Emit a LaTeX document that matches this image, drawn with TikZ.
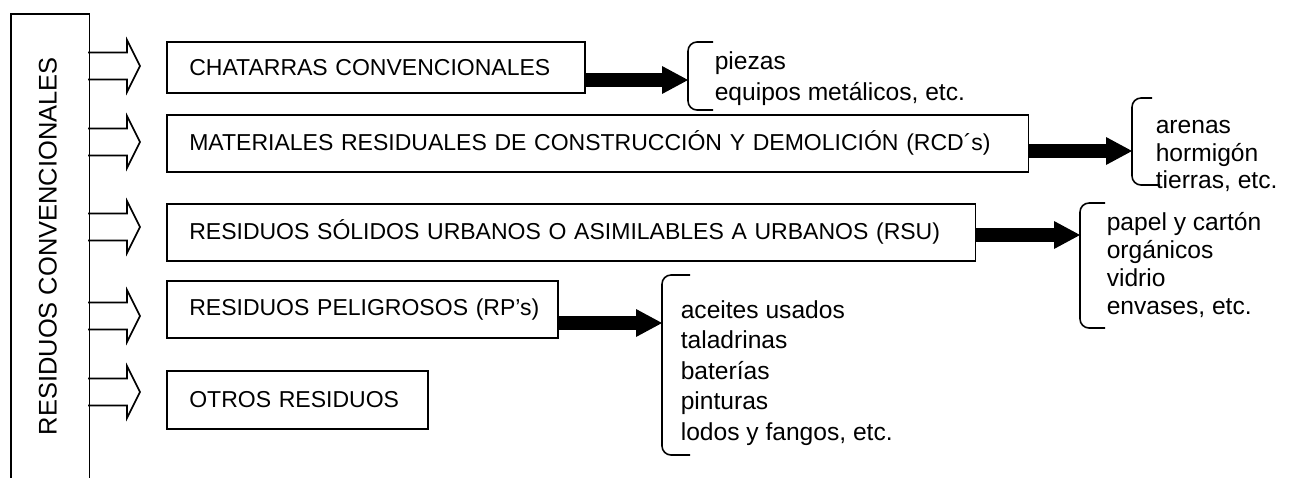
\documentclass[tikz,border=0pt]{standalone}
\usepackage{fontspec}
\setmainfont{Liberation Sans}
\usetikzlibrary{arrows.meta}

\tikzset{
  cat/.style={draw, anchor=north west, align=left, inner xsep=0pt, inner ysep=0pt,
    text width=#1, minimum height=1.14cm, execute at begin node=\hspace*{0.45cm},
    font=\fontsize{13.1}{16}\selectfont},
  items/.style={anchor=west, align=left, inner sep=0pt, font=\fontsize{14}{#1}\selectfont},
  fat/.style={line width=0.29cm, -{Triangle[length=0.52cm,width=0.56cm,line width=0pt]}},
  brace/.style={rounded corners=0.18cm},
}

\begin{document}
\begin{tikzpicture}[x=0.02cm, y=-0.02cm, line width=0.9pt]
\useasboundingbox (0,0) rectangle (1295,477);

% left frame, open at the bottom
\node[anchor=north west, minimum width=1.54cm, minimum height=9.26cm, inner sep=0pt,
  font=\fontsize{14.5}{17}\selectfont] (conv) at (11,14)
  {\rotatebox{90}{RESIDUOS CONVENCIONALES}\hspace*{0.1cm}};
\draw (conv.south west) -- (conv.north west) -- (conv.north east) -- (conv.south east);

% hollow arrows
\foreach \y in {66,142,227,316,392}
  \draw (88,\y-13.5) -- (127,\y-13.5) -- (127,\y-26) -- (140,\y)
    -- (127,\y+26) -- (127,\y+13.5) -- (88,\y+13.5);

% categories
\node[cat=8.36cm, minimum height=1.02cm] (chat) at (166,41) {CHATARRAS CONVENCIONALES};
\node[cat=17.24cm] (rcd) at (166,114) {MATERIALES RESIDUALES DE CONSTRUCCIÓN Y DEMOLICIÓN (RCD´s)};
\node[cat=16.18cm] (rsu) at (166,203) {RESIDUOS SÓLIDOS URBANOS O ASIMILABLES A URBANOS (RSU)};
\node[cat=7.82cm] (rp) at (166,280) {RESIDUOS PELIGROSOS (RP’s)};
\node[cat=5.22cm, minimum height=1.16cm] (otros) at (166,370) {OTROS RESIDUOS};

% examples
\node[items=17.6pt] (chatl) at (714,79) {piezas\\equipos metálicos, etc.};
\node[items=15.6pt] (rcdl) at (1155,156) {arenas\\hormigón\\tierras, etc.};
\node[items=15.8pt] (rsul) at (1106,265) {papel y cartón\\orgánicos\\vidrio\\envases, etc.};
\node[items=17.4pt] (rpl) at (680,373) {aceites usados\\taladrinas\\baterías\\pinturas\\lodos y fangos, etc.};

% brackets
\coordinate (tipA) at (688,80);
\draw[brace] (713,42) -- (688,42) -- (688,110) -- (713,110);
\coordinate (tipB) at (1132,151);
\draw[brace] (1152,98) -- (1132,98) -- (1132,185) -- (1160,185);
\coordinate (tipC) at (1080,235);
\draw[brace] (1105,203) -- (1080,203) -- (1080,328) -- (1105,328);
\coordinate (tipD) at (662,323);
\draw[brace] (690,275) -- (662,275) -- (662,455) -- (690,455);

\draw[fat] (chat.east |- tipA) -- (tipA);
\draw[fat] (rcd.east |- tipB) -- (tipB);
\draw[fat] (rsu.east |- tipC) -- (tipC);
\draw[fat] (rp.east |- tipD) -- (tipD);
\end{tikzpicture}
\end{document}
